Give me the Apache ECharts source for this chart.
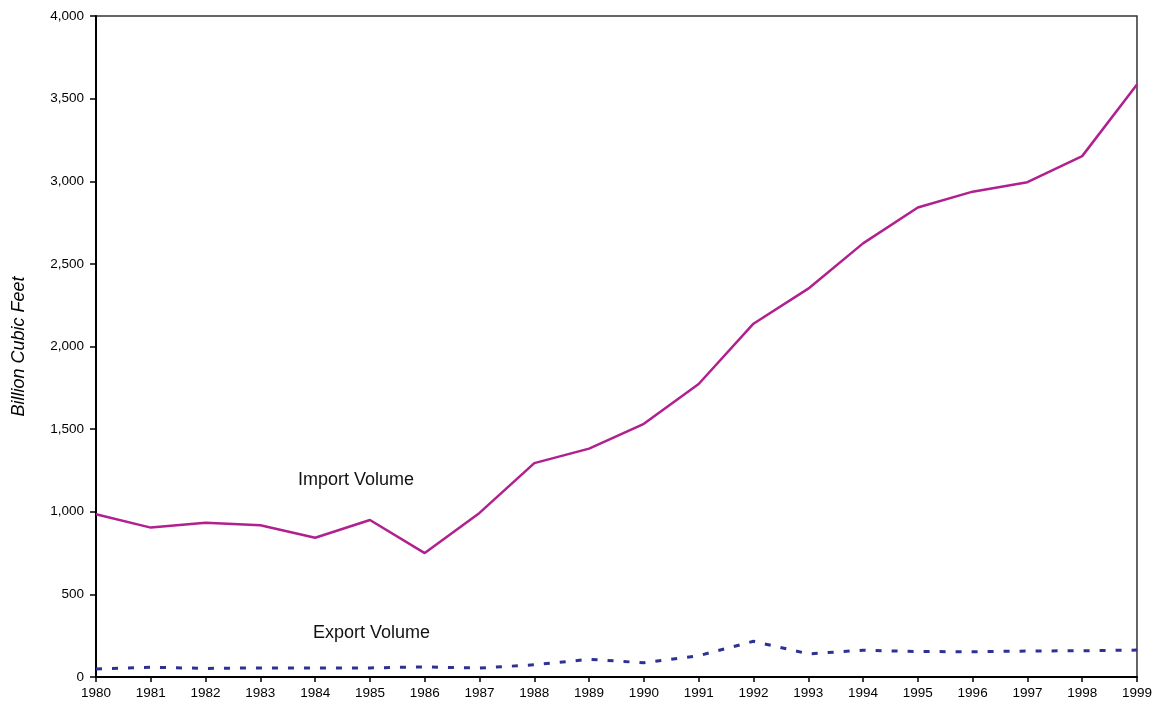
<!DOCTYPE html>
<html>
<head>
<meta charset="utf-8">
<script src="https://cdn.jsdelivr.net/npm/echarts@6/dist/echarts.min.js"></script>
<style>html,body{margin:0;padding:0;background:#fff}#c{width:1155px;height:704px}</style>
</head>
<body>
<div id="c"></div>
<script>
const years = ['1980','1981','1982','1983','1984','1985','1986','1987','1988','1989','1990','1991','1992','1993','1994','1995','1996','1997','1998','1999'];
const importVolume = [985, 904, 933, 918, 843, 950, 750, 993, 1294, 1382, 1532, 1773, 2138, 2350, 2624, 2841, 2937, 2994, 3152, 3586];
const exportVolume = [49, 59, 52, 55, 55, 55, 61, 54, 74, 107, 86, 129, 216, 140, 162, 154, 153, 157, 159, 163];
const yTicks = [0, 500, 1000, 1500, 2000, 2500, 3000, 3500, 4000];

const chart = echarts.init(document.getElementById('c'), null, {renderer: 'canvas'});
const font = 'Liberation Sans, Arial, sans-serif';
chart.setOption({
  animation: false,
  backgroundColor: '#fff',
  grid: {left: 96, top: 16, right: 17, bottom: 27, show: true, borderColor: '#333', borderWidth: 1.5, containLabel: false},
  xAxis: {
    type: 'category', data: years, boundaryGap: false,
    axisLine: {lineStyle: {color: '#000', width: 2}},
    axisTick: {show: true, length: 5, lineStyle: {color: '#000', width: 1.5}, alignWithLabel: true},
    axisLabel: {color: '#000', fontSize: 13.5, fontFamily: font, margin: 9, interval: 0},
    splitLine: {show: false}
  },
  yAxis: {
    type: 'value', min: yTicks[0], max: yTicks[yTicks.length - 1], interval: 500,
    name: 'Billion Cubic Feet', nameLocation: 'middle', nameRotate: 90, nameGap: 68,
    nameTextStyle: {color: '#000', fontSize: 18, fontStyle: 'italic', fontFamily: font, padding: [0, 0, 0, 0]},
    axisLine: {show: true, lineStyle: {color: '#000', width: 2}},
    axisTick: {show: true, length: 6, lineStyle: {color: '#000', width: 1.5}},
    axisLabel: {color: '#000', fontSize: 13.5, fontFamily: font, margin: 12,
      formatter: v => v.toLocaleString('en-US')},
    splitLine: {show: false}
  },
  series: [
    {name: 'Import Volume', type: 'line', data: importVolume, symbol: 'none',
     lineStyle: {color: '#B0208E', width: 2.5}},
    {name: 'Export Volume', type: 'line', data: exportVolume, symbol: 'none',
     lineStyle: {color: '#2E3192', width: 3, type: [6, 10]}}
  ],
  graphic: [
    {type: 'text', left: 298, top: 471, style: {text: 'Import Volume', fontSize: 18, fontFamily: font, fill: '#111'}},
    {type: 'text', left: 313, top: 624, style: {text: 'Export Volume', fontSize: 18, fontFamily: font, fill: '#111'}}
  ]
});
</script>
</body>
</html>
